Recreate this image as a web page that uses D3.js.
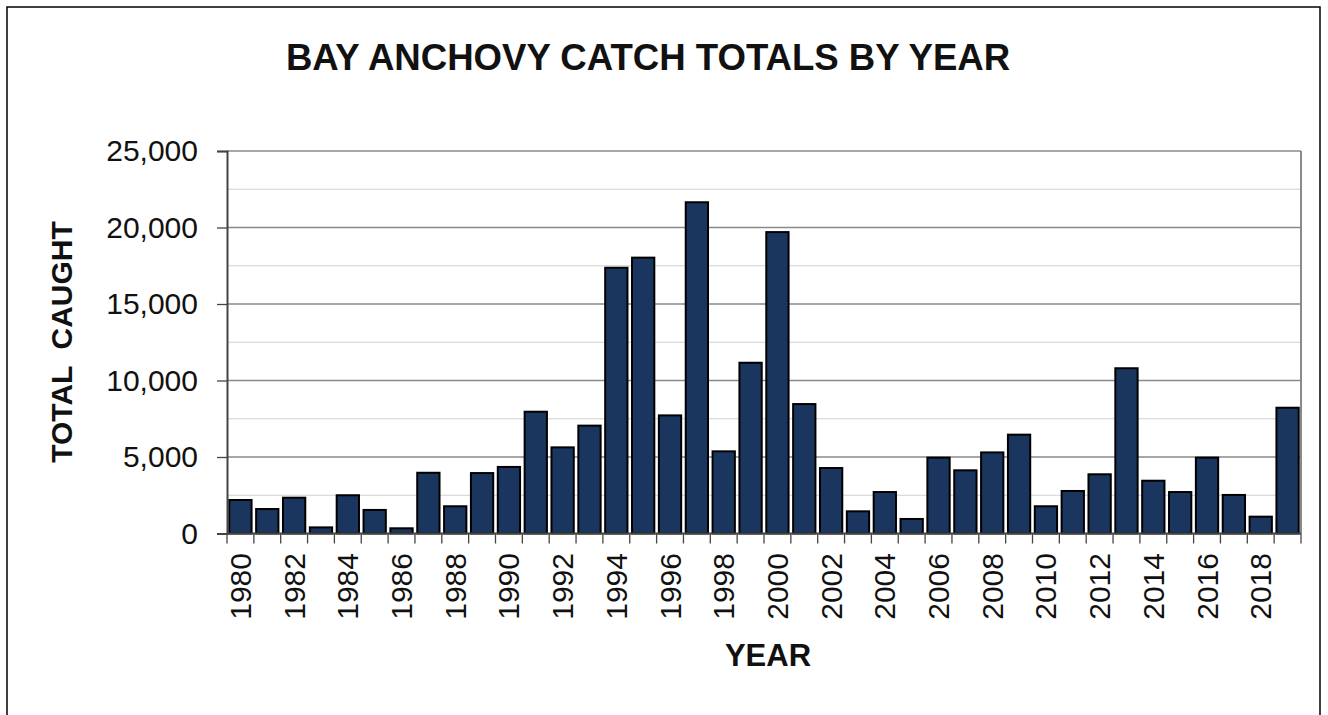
<!DOCTYPE html>
<html>
<head>
<meta charset="utf-8">
<script src="https://cdn.jsdelivr.net/npm/d3@7"></script>
<style>
  body { margin: 0; background: #fff; }
  svg { display: block; font-family: "Liberation Sans", Arial, sans-serif; }
</style>
</head>
<body>
<script>
const years = d3.range(1980, 2020)
const catches = [
  2190, 1600, 2340, 400, 2500, 1540, 340, 3970, 1780, 3950,
  4350, 7960, 5630, 7050, 17370, 18030, 7720, 21650, 5370, 11160,
  19700, 8460, 4280, 1450, 2710, 950, 4960, 4130, 5300, 6460,
  1780, 2780, 3870, 10800, 3450, 2710, 4960, 2520, 1100, 8220
]
const yMajor = [0, 5000, 10000, 15000, 20000, 25000]
const yMinor = [2500, 7500, 12500, 17500, 22500]
const yearLabels = years.filter(d => d % 2 === 0)

const width = 1328, height = 715
const plotLeft = 227, plotRight = 1301, plotTop = 151, plotBottom = 533.5

const svg = d3.select("body").append("svg")
    .attr("width", width)
    .attr("height", height)

// outer frame
svg.append("rect")
    .attr("x", 7).attr("y", 7)
    .attr("width", 1313).attr("height", 760)
    .style("fill", "none")
    .style("stroke", "#000")
    .style("stroke-width", 1.5)

const x = d3.scaleBand().domain(years).range([plotLeft, plotRight])
    .paddingInner(0.17).paddingOuter(0.085)
const y = d3.scaleLinear().domain([0, 25000]).range([plotBottom, plotTop])

// gridlines
svg.append("g").selectAll("line").data(yMinor).join("line")
    .attr("x1", plotLeft).attr("x2", plotRight)
    .attr("y1", d => y(d)).attr("y2", d => y(d))
    .style("stroke", "#d0d0d0").style("stroke-width", 1.2)

svg.append("g").selectAll("line").data(yMajor.slice(1)).join("line")
    .attr("x1", plotLeft).attr("x2", plotRight)
    .attr("y1", d => y(d)).attr("y2", d => y(d))
    .style("stroke", "#8a8a8a").style("stroke-width", 1.3)

// right border
svg.append("line")
    .attr("x1", plotRight).attr("x2", plotRight)
    .attr("y1", y(25000)).attr("y2", y(0))
    .style("stroke", "#8a8a8a").style("stroke-width", 2)

// bars
svg.append("g").selectAll("rect").data(years).join("rect")
    .attr("x", d => x(d))
    .attr("y", (d, i) => y(catches[i]))
    .attr("width", x.bandwidth())
    .attr("height", (d, i) => y(0) - y(catches[i]))
    .style("fill", "#1b365e")
    .style("stroke", "#000")
    .style("stroke-width", 2)

// y axis
const yAxis = svg.append("g")
    .attr("transform", `translate(${plotLeft},0)`)
    .call(d3.axisLeft(y).tickValues(yMajor).tickSize(10).tickPadding(19)
      .tickFormat(d3.format(",")))
yAxis.select(".domain").style("stroke", "#444").style("stroke-width", 2)
yAxis.selectAll(".tick line").style("stroke", "#444").style("stroke-width", 1.3)
yAxis.selectAll("text")
    .style("font-size", "30px")
    .style("fill", "#111")
    .style("font-family", "Liberation Sans, Arial, sans-serif")

// x axis line and boundary ticks
svg.append("line")
    .attr("x1", plotLeft).attr("x2", plotRight)
    .attr("y1", plotBottom).attr("y2", plotBottom)
    .style("stroke", "#444").style("stroke-width", 2)

const lastYear = years[years.length - 1]
const edge = d => d > lastYear ? plotRight : x(d) - (x.step() - x.bandwidth()) / 2
svg.append("g").selectAll("line").data(years.concat([lastYear + 1])).join("line")
    .attr("x1", edge)
    .attr("x2", edge)
    .attr("y1", plotBottom).attr("y2", plotBottom + 10)
    .style("stroke", "#444").style("stroke-width", 1.3)

svg.append("g").selectAll("text").data(yearLabels).join("text")
    .attr("transform", d => `translate(${x(d) + x.bandwidth() / 2},553) rotate(-90)`)
    .attr("text-anchor", "end")
    .attr("dy", "0.35em")
    .style("font-size", "30px")
    .style("fill", "#111")
    .text(d => d)

// titles
svg.append("text")
    .attr("x", 648).attr("y", 70)
    .attr("text-anchor", "middle")
    .style("font-size", "36.6px")
    .style("font-weight", "bold")
    .style("fill", "#111")
    .text("BAY ANCHOVY CATCH TOTALS BY YEAR")

svg.append("text")
    .attr("transform", "translate(72,342) rotate(-90)")
    .attr("text-anchor", "middle")
    .style("font-size", "30px")
    .style("font-weight", "bold")
    .style("white-space", "pre")
    .style("fill", "#111")
    .text("TOTAL  CAUGHT")

svg.append("text")
    .attr("x", 768).attr("y", 666)
    .attr("text-anchor", "middle")
    .style("font-size", "31px")
    .style("font-weight", "bold")
    .style("fill", "#111")
    .text("YEAR")
</script>
</body>
</html>
